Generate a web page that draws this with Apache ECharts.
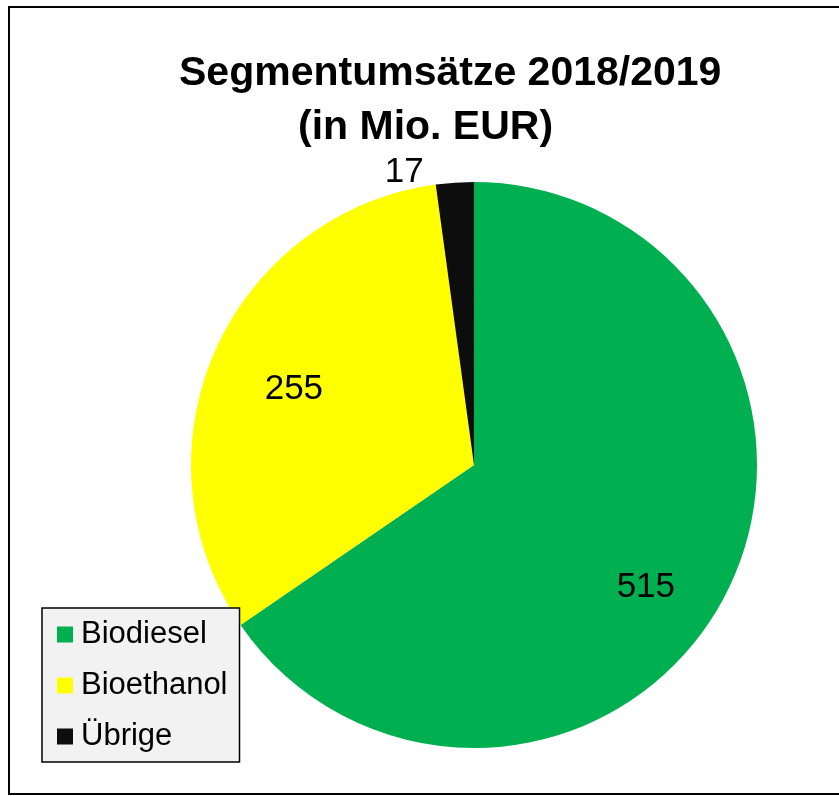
<!DOCTYPE html>
<html>
<head>
<meta charset="utf-8">
<script src="https://cdn.jsdelivr.net/npm/echarts@6/dist/echarts.min.js"></script>
<style>
html,body{margin:0;padding:0;background:#fff;}
#chart{width:839px;height:796px;}
</style>
</head>
<body>
<div id="chart"></div>
<script>
const titleLine1 = 'Segmentumsätze 2018/2019';
const titleLine2 = '(in Mio. EUR)';
const categories = ['Biodiesel', 'Bioethanol', 'Übrige'];
const values = [515, 255, 17];
const colors = ['#00B050', '#FFFF00', '#0D0D0D'];
const labelOffsets = [[44, 55], [-48, -17], [-60, -148]];

const FONT = '"Liberation Sans", Arial, sans-serif';
const chart = echarts.init(document.getElementById('chart'), null, {renderer: 'canvas'});

const data = categories.map((name, i) => ({
  name: name,
  value: values[i],
  itemStyle: {color: colors[i]},
  label: {offset: labelOffsets[i]}
}));

chart.setOption({
  animation: false,
  backgroundColor: '#ffffff',
  title: [
    {text: titleLine1, left: 179, top: 53, padding: 0,
     textStyle: {fontFamily: FONT, fontSize: 41, fontWeight: 'bold', color: '#000'}},
    {text: titleLine2, left: 298, top: 107, padding: 0,
     textStyle: {fontFamily: FONT, fontSize: 41, fontWeight: 'bold', color: '#000'}}
  ],
  legend: {
    orient: 'vertical',
    left: 42,
    top: 608,
    padding: [11, 12, 10, 15],
    itemWidth: 16,
    itemHeight: 16,
    itemGap: 20,
    icon: 'rect',
    backgroundColor: '#F2F2F2',
    borderColor: '#000',
    borderWidth: 1.5,
    selectedMode: false,
    data: categories,
    textStyle: {fontFamily: FONT, fontSize: 31, color: '#000', padding: [0, 0, 0, 3]}
  },
  graphic: [{
    type: 'rect',
    z: -10,
    shape: {x: 9, y: 7, width: 900, height: 787},
    style: {fill: 'none', stroke: '#000', lineWidth: 2}
  }],
  series: [{
    type: 'pie',
    center: [474, 465],
    radius: 283,
    startAngle: 90,
    clockwise: true,
    silent: true,
    itemStyle: {borderWidth: 0},
    label: {
      show: true,
      position: 'inside',
      formatter: '{c}',
      fontFamily: FONT,
      fontSize: 35,
      color: '#000',
      textBorderWidth: 0
    },
    labelLine: {show: false},
    emphasis: {disabled: true},
    data: data
  }]
});
</script>
</body>
</html>
